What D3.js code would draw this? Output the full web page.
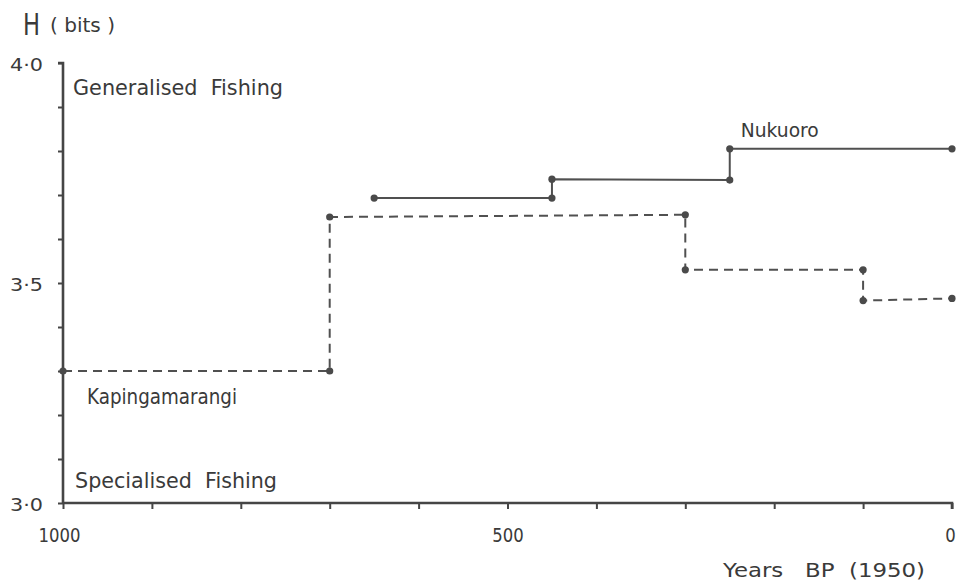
<!DOCTYPE html>
<html>
<head>
<meta charset="utf-8">
<script src="https://cdn.jsdelivr.net/npm/d3@7"></script>
<style>
  html, body { margin: 0; padding: 0; background: #ffffff; }
  svg { display: block; }
  text { font-family: "DejaVu Sans", sans-serif; fill: #3a3a3a; white-space: pre; }
</style>
</head>
<body>
<svg id="chart" width="958" height="581"></svg>
<script>
// ---- data ----
const kapYears = [1000, 700, 700, 300, 300, 100, 100, 0];
const kapH     = [3.30, 3.30, 3.65, 3.655, 3.53, 3.53, 3.46, 3.465];
const nukYears = [650, 450, 450, 250, 250, 0];
const nukH     = [3.693, 3.693, 3.736, 3.734, 3.805, 3.805];
const xTicks = [1000, 900, 800, 700, 600, 500, 400, 300, 200, 100, 0];
const xLabels = ["1000", "500", "0"];
const yTicks = [3.0, 3.1, 3.2, 3.3, 3.4, 3.5, 3.6, 3.7, 3.8, 3.9, 4.0];
const yLabels = ["3·0", "3·5", "4·0"];

const svg = d3.select("#chart");
const x = d3.scaleLinear().domain([1000, 0]).range([63, 952]);
const y = d3.scaleLinear().domain([3.0, 4.0]).range([503, 63]);
const ink = "#454545";

// axes
const xAxis = d3.axisBottom(x).tickValues(xTicks).tickSize(6).tickPadding(20)
  .tickFormat(d => xLabels.includes(String(d)) ? String(d) : "");
const gx = svg.append("g").attr("transform", `translate(0,${y(3.0)})`).call(xAxis);
gx.select(".domain").attr("d", `M${x(1000)},0H${x(0)}V6`).attr("stroke", ink).attr("stroke-width", 2.6);
gx.selectAll(".tick line").attr("stroke", ink).attr("stroke-width", 2);
gx.selectAll(".tick text").attr("font-size", 19).attr("fill", "#3a3a3a")
  .attr("lengthAdjust", "spacingAndGlyphs")
  .attr("textLength", function(d) { const t = this.textContent; return t ? t.length * 10.5 : null; })
  .attr("dx", d => d === 1000 ? -4 : (d === 0 ? -2 : 0));

const fmtY = d => d.toFixed(1).replace(".", "·");
const yAxis = d3.axisLeft(y).tickValues(yTicks).tickSize(5).tickPadding(15)
  .tickFormat(d => yLabels.includes(fmtY(d)) ? fmtY(d) : "");
const gy = svg.append("g").attr("transform", `translate(${x(1000)},0)`).call(yAxis);
gy.select(".domain").attr("d", `M-5,${y(4.0)}H0V${y(3.0)}`).attr("stroke", ink).attr("stroke-width", 2.6);
gy.selectAll(".tick line").attr("stroke", ink).attr("stroke-width", 2);
gy.selectAll(".tick text").attr("font-size", 18).attr("fill", "#3a3a3a")
  .attr("lengthAdjust", "spacingAndGlyphs")
  .attr("textLength", function() { return this.textContent ? 33 : null; })
  .attr("dy", "0.42em");

// series
const line = d3.line().x(d => x(d[0])).y(d => y(d[1]));
const kap = kapYears.map((v, i) => [v, kapH[i]]);
const nuk = nukYears.map((v, i) => [v, nukH[i]]);

svg.append("path").attr("d", line(kap)).attr("fill", "none")
  .attr("stroke", "#505050").attr("stroke-width", 2).attr("stroke-dasharray", "9,6");
svg.append("path").attr("d", line(nuk)).attr("fill", "none")
  .attr("stroke", "#505050").attr("stroke-width", 2);

svg.append("g").selectAll("circle").data(kap.concat(nuk)).join("circle")
  .attr("cx", d => x(d[0])).attr("cy", d => y(d[1])).attr("r", 3.6).attr("fill", "#4a4a4a");

// annotations
function label(tx, ty, size, len, str) {
  return svg.append("text").attr("x", tx).attr("y", ty).attr("font-size", size)
    .attr("textLength", len).attr("lengthAdjust", "spacingAndGlyphs").text(str);
}
label(x(250) + 11, y(3.805) - 12, 19.5, 78, "Nukuoro");
label(x(1000) + 24, y(3.30) + 33, 21, 150, "Kapingamarangi");
label(73, 95, 20.5, 210, "Generalised  Fishing");
label(75, 488, 20.5, 202, "Specialised  Fishing");

// axis titles
svg.append("text").attr("x", 23).attr("y", 35).attr("font-size", 30)
  .attr("textLength", 17).attr("lengthAdjust", "spacingAndGlyphs").text("H");
label(50, 32, 20, 65, "( bits )");
label(723, 577, 19, 202, "Years   BP  (1950)");
</script>
</body>
</html>
